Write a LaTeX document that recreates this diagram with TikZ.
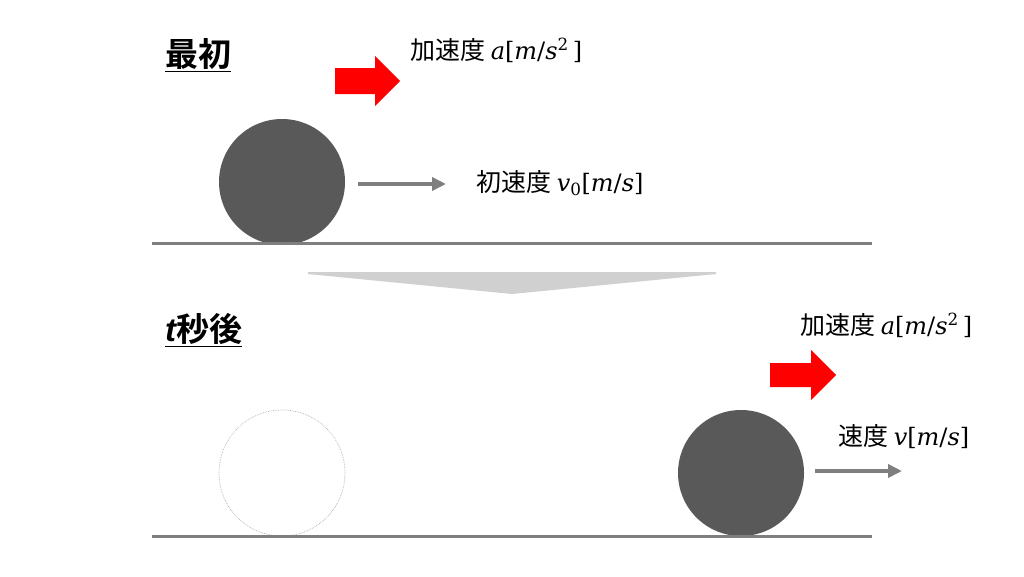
\documentclass[tikz,border=0pt]{standalone}
\usepackage{fontspec}
\newfontfamily\jp{Noto Sans CJK JP}[BoldFont={* Bold}]
\newfontfamily\lsans{Liberation Sans}
\newfontfamily\mserif{DejaVu Serif}
\usetikzlibrary{arrows.meta}
\definecolor{gray50}{HTML}{7F7F7F}
\definecolor{ballgray}{HTML}{595959}
\definecolor{ghostgray}{HTML}{B0B0B0}
\definecolor{chevgray}{HTML}{D0D0D0}
\definecolor{accred}{HTML}{FF0000}
\newcommand{\qty}[1]{{\mserif\fontsize{24}{29}\selectfont #1}}
\newcommand{\vi}[1]{{\itshape #1}}
\begin{document}
\begin{tikzpicture}[x=1pt,y=-1pt,
 ground/.style={draw=gray50, line width=3pt},
 ball/.style={circle, fill=ballgray, minimum size=126pt, inner sep=0pt},
 ghost/.style={circle, draw=ghostgray, densely dotted, line width=0.7pt, minimum size=126pt, inner sep=0pt},
 velarrow/.style={draw=gray50, line width=3.5pt, -{Triangle[length=14pt,width=13pt]}},
 redarrow/.style={fill=accred, draw=none},
 jptext/.style={font=\jp\fontsize{25}{30}\selectfont, anchor=west, inner sep=0pt},
 titletext/.style={font=\jp\bfseries\fontsize{33}{38}\selectfont, anchor=west, inner sep=0pt},
]
\useasboundingbox[fill=white] (0,0) rectangle (1024,576);

% ---- top scene ----
\node[titletext] (t1) at (165,55) {\underline{最初}};
\fill[redarrow] (335,68) -- (375,68) -- (375,56) -- (400,81) -- (375,106) -- (375,94) -- (335,94) -- cycle;
\node[jptext] (acc1) at (410,50) {加速度 \qty{\vi{a}[\vi{m}/\vi{s}\textsuperscript{2}\,]}};
\node[ball] (b1) at (282,182) {};
\coordinate (v1s) at (358,184);
\coordinate (v1e) at (446,184);
\draw[velarrow] (v1s) -- (v1e);
\node[jptext] (vel1) at (476,183) {初速度 \qty{\vi{v}\textsubscript{0}[\vi{m}/\vi{s}]}};
\coordinate (g1s) at (152,243);
\coordinate (g1e) at (872,243);
\draw[ground] (g1s) -- (g1e);

% ---- chevron ----
\fill[chevgray] (308,272) -- (716,272) -- (716,274) -- (512,294) -- (308,274) -- cycle;

% ---- bottom scene ----
\node[titletext] (t2) at (165,330) {\underline{{\lsans\bfseries\itshape t}秒後}};
\node[jptext] (acc2) at (800,325) {加速度 \qty{\vi{a}[\vi{m}/\vi{s}\textsuperscript{2}\,]}};
\fill[redarrow] (770,363) -- (811,363) -- (811,350) -- (836,375) -- (811,400) -- (811,387) -- (770,387) -- cycle;
\node[jptext] (vel2) at (838,437) {速度 \qty{\vi{v}[\vi{m}/\vi{s}]}};
\node[ghost] (b0) at (282,473) {};
\node[ball] (b2) at (741,473) {};
\coordinate (v2s) at (815,471);
\coordinate (v2e) at (902,471);
\draw[velarrow] (v2s) -- (v2e);
\coordinate (g2s) at (152,536);
\coordinate (g2e) at (872,536);
\draw[ground] (g2s) -- (g2e);
\end{tikzpicture}
\end{document}
